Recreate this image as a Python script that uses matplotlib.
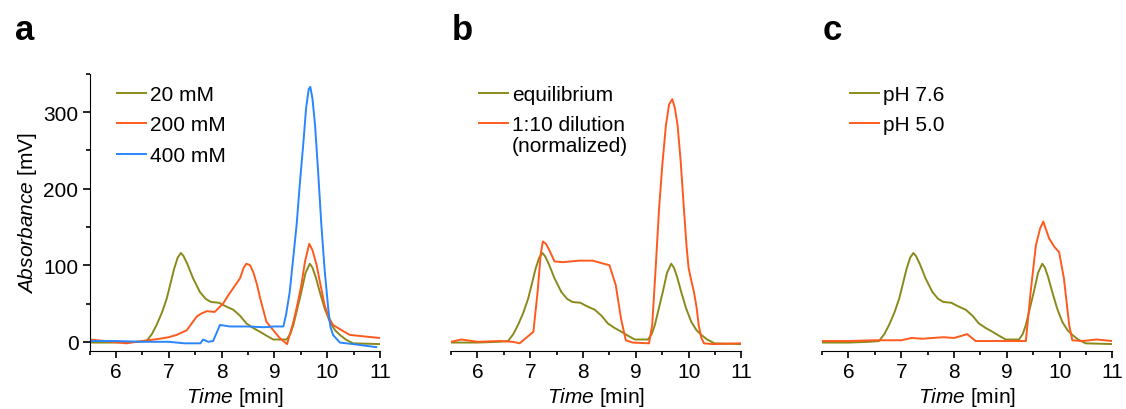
import matplotlib
matplotlib.use("Agg")
import matplotlib.pyplot as plt
import numpy as np

plt.rcParams["font.family"] = ["Liberation Sans", "DejaVu Sans"]
plt.rcParams["mathtext.fontset"] = "custom"
plt.rcParams["mathtext.rm"] = "Liberation Sans"
plt.rcParams["mathtext.it"] = "Liberation Sans:italic"

OLIVE = "#8a8a1c"
ORANGE = "#ff5a1e"
BLUE = "#2a85ff"

# 20 mM / equilibrium / pH 7.6 (same trace in every panel)
t_eq = [5.5, 6.0, 6.4, 6.58, 6.68, 6.77, 6.87, 6.96, 7.04, 7.1, 7.17, 7.23, 7.28,
        7.35, 7.46, 7.59, 7.7, 7.8, 7.95, 8.03, 8.12, 8.22, 8.35, 8.47, 8.6, 8.73,
        8.85, 8.98, 9.1, 9.23, 9.3, 9.36, 9.43, 9.51, 9.59, 9.67, 9.72, 9.78, 9.86,
        9.95, 10.05, 10.15, 10.24, 10.35, 10.49, 11.0]
a_eq = [-1, -1, 0, 1, 10, 22, 38, 56, 78, 95, 110, 116, 112,
        102, 83, 65, 56, 52, 51, 48, 45, 42, 34, 24, 18, 13,
        8, 3, 3, 3, 10, 22, 42, 65, 90, 102, 97, 85, 65,
        44, 26, 15, 9, 3, -2, -3]

# 200 mM
t_200 = [5.5, 5.8, 6.2, 6.5, 6.83, 7.0, 7.15, 7.34, 7.53, 7.62, 7.72, 7.87, 8.03,
         8.12, 8.22, 8.35, 8.42, 8.47, 8.54, 8.6, 8.67, 8.73, 8.85, 8.98, 9.1, 9.24,
         9.36, 9.44, 9.51, 9.58, 9.66, 9.72, 9.8, 9.88, 9.95, 10.03, 10.11, 10.3,
         10.43, 10.7, 11.0]
a_200 = [3, 1, -2, 1, 4, 6, 9, 15, 33, 37, 40, 39, 50,
         60, 70, 83, 97, 102, 100, 91, 75, 57, 26, 15, 5, -3,
         26, 50, 74, 105, 128, 120, 100, 72, 48, 32, 22, 14,
         9, 7, 5]

# 400 mM
t_400 = [5.5, 6.0, 6.5, 7.0, 7.3, 7.6, 7.65, 7.75, 7.84, 7.97, 8.16, 8.5, 8.8, 9.0,
         9.17, 9.22, 9.29, 9.35, 9.42, 9.48, 9.55, 9.6, 9.65, 9.68, 9.72, 9.77,
         9.83, 9.89, 9.95, 10.02, 10.06, 10.11, 10.24, 10.49, 10.93]
a_400 = [1, 1, 0, 0, -2, -2, 3, 0, 1, 22, 20, 20, 19, 20,
         20, 35, 65, 105, 152, 205, 261, 305, 330, 333, 318, 283,
         220, 152, 95, 43, 20, 9, -1, -3, -7]

# 1:10 dilution (normalized)
t_dil = [5.5, 5.7, 6.0, 6.42, 6.67, 6.8, 6.99, 7.06, 7.14, 7.2, 7.24, 7.3, 7.36,
         7.46, 7.62, 7.93, 8.18, 8.5, 8.62, 8.72, 8.81, 8.94, 9.25, 9.31, 9.37,
         9.44, 9.5, 9.57, 9.63, 9.69, 9.74, 9.79, 9.85, 9.91, 9.96, 10.0, 10.05,
         10.1, 10.15, 10.19, 10.24, 10.29, 10.45, 11.0]
a_dil = [0, 3, 0, 1, 0, -2, 9, 13, 65, 115, 131, 128, 120,
         105, 104, 106, 106, 100, 74, 30, 2, -1, -2, 22, 90,
         174, 230, 283, 310, 317, 305, 283, 235, 174, 125, 96, 80,
         65, 45, 22, 5, -2, -3, -2]

# pH 5.0
t_ph5 = [5.5, 6.0, 6.5, 7.0, 7.2, 7.4, 7.6, 7.8, 8.0, 8.25, 8.41, 8.8, 9.36,
         9.45, 9.55, 9.63, 9.69, 9.75, 9.8, 9.9, 9.99, 10.08, 10.18, 10.24, 10.43,
         10.7, 11.0]
a_ph5 = [1, 1, 2, 2, 5, 4, 5, 6, 5, 10, 1, 1, 1,
         65, 126, 148, 157, 145, 135, 124, 117, 83, 22, 2, 1,
         3, 1]

PANELS = [
    ("a", [(t_eq, a_eq, OLIVE, "20 mM"), (t_200, a_200, ORANGE, "200 mM"),
           (t_400, a_400, BLUE, "400 mM")]),
    ("b", [(t_eq, a_eq, OLIVE, "equilibrium"),
           (t_dil, a_dil, ORANGE, "1:10 dilution")]),
    ("c", [(t_eq, a_eq, OLIVE, "pH 7.6"), (t_ph5, a_ph5, ORANGE, "pH 5.0")]),
]
LEFTS = [0.0795, 0.4005, 0.730]
LETTER_X = [0.013, 0.401, 0.731]


def main():
    fig = plt.figure(figsize=(11.26, 4.10), dpi=100)
    for i, (letter, series) in enumerate(PANELS):
        ax = fig.add_axes([LEFTS[i], 0.1415, 0.258, 0.676])
        for t, a, color, label in series:
            ax.plot(t, a, color=color, lw=1.4, label=label)
        ax.set_xlim(5.5, 11)
        ax.set_ylim(-12, 350)
        ax.set_xticks(range(6, 12))
        ax.set_xticks(np.arange(5.5, 11.01, 0.5), minor=True)
        ax.spines["top"].set_visible(False)
        ax.spines["right"].set_visible(False)
        ax.tick_params(labelsize=15, direction="out", length=5, width=1.2, pad=3)
        ax.tick_params(which="minor", length=3, width=1.2)
        ax.set_xlabel(r"$\it{Time}$ [min]", fontsize=15, labelpad=3)
        if i == 0:
            ax.set_yticks([0, 100, 200, 300])
            ax.set_yticks(np.arange(0, 351, 50), minor=True)
            ax.set_ylabel(r"$\it{Absorbance}$ [mV]", fontsize=15, labelpad=3)
        else:
            ax.spines["left"].set_visible(False)
            ax.set_yticks([])
            ax.set_yticks([], minor=True)
        leg = ax.legend(loc="upper left", bbox_to_anchor=(0.095, 0.96), frameon=False,
                        fontsize=15, handlelength=1.4, handletextpad=0.2,
                        labelspacing=0.55, borderpad=0, borderaxespad=0)
        if letter == "b":
            # second line of the dilution label, under its legend text
            ax.annotate("(normalized)", xy=(0, 0), xycoords=leg.get_texts()[1],
                        xytext=(0, -1), textcoords="offset points",
                        ha="left", va="top", fontsize=15, zorder=10)
        fig.text(LETTER_X[i], 0.925, letter, fontsize=25, fontweight="bold",
                 va="center")
    fig.savefig("out.png", dpi=100)


if __name__ == "__main__":
    main()
